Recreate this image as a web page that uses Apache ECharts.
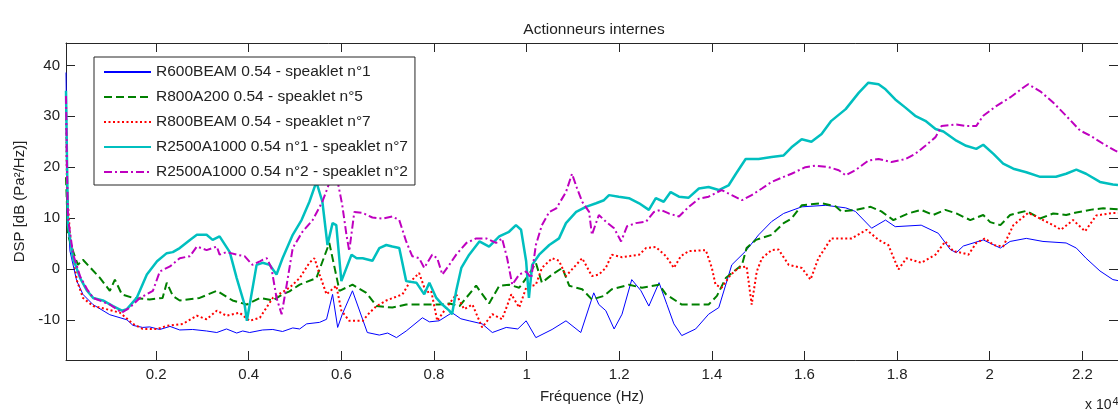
<!DOCTYPE html>
<html>
<head>
<meta charset="utf-8">
<title>Actionneurs internes</title>
<script src="https://cdn.jsdelivr.net/npm/echarts@6/dist/echarts.min.js"></script>
<style>
  html, body { margin: 0; padding: 0; background: #fff; }
  #chart { width: 1118px; height: 409px; }
</style>
</head>
<body>
<div id="chart"></div>
<script>
// legend labels
const seriesNames = [
  'R600BEAM 0.54 - speaklet n°1',
  'R800A200 0.54 - speaklet n°5',
  'R800BEAM 0.54 - speaklet n°7',
  'R2500A1000 0.54 n°1 - speaklet n°7',
  'R2500A1000 0.54 n°2 - speaklet n°2'
];

// axis ticks (Hz / dB)
const freqTicks = [2000, 4000, 6000, 8000, 10000, 12000, 14000, 16000, 18000, 20000, 22000];
const dspTicks = [-10, 0, 10, 20, 30, 40];

// R600BEAM - speaklet n°1
const r600Freq = [54, 75, 97, 140, 284, 420, 636, 1000, 1370, 1500, 1710, 1860, 2080, 2300, 2510, 2790, 3090, 3310, 3520, 3740, 3870, 4020, 4300, 4520, 4730, 4950, 5100, 5250, 5530, 5680, 5810, 5920, 6020, 6240, 6560, 6820, 7000, 7190, 7400, 7750, 7900, 8110, 8390, 8580, 8760, 9040, 9260, 9560, 9810, 9990, 10200, 10550, 10850, 11170, 11450, 11560, 11710, 11890, 12060, 12270, 12470, 12640, 12860, 13030, 13180, 13350, 13650, 13930, 14150, 14430, 14730, 15010, 15290, 15550, 15940, 16460, 16890, 17100, 17450, 17750, 17960, 18520, 18890, 19150, 19280, 19430, 19860, 20230, 20440, 20790, 21150, 21650, 21870, 22080, 22380, 22660, 22770];
const r600Dsp = [38.6, 22, 10, 3.5, -2.3, -5, -7, -9, -10, -11.1, -11.5, -11.4, -11.9, -11.3, -12, -11.9, -12.2, -12.5, -11.8, -12.6, -12.2, -12.5, -12, -11.9, -12.3, -11.6, -11.8, -10.8, -10.5, -9.9, -5, -11.5, -8.9, -4.3, -12.5, -13, -12.6, -13.5, -12.2, -9.6, -10.4, -10.2, -8.6, -9.8, -10.2, -10.8, -12.5, -11.5, -11.8, -10.2, -13.5, -11.9, -10.2, -12.5, -4.7, -7, -8.2, -11.8, -8.9, -2.1, -4.3, -7.3, -2.7, -7, -10.8, -13.1, -11.8, -8.9, -7.6, 0.8, 3.5, 6.7, 9.3, 10.9, 12.2, 12.5, 12, 11.3, 8, 9.6, 8.3, 8.6, 7, 3.8, 3.2, 4.5, 5.7, 4.1, 5.4, 6, 5.4, 5.1, 4.1, 2.1, -0.4, -2.1, -2.3];

// R800A200 - speaklet n°5
const r800aFreq = [54, 97, 205, 310, 420, 790, 1000, 1110, 1260, 1500, 1860, 2140, 2230, 2360, 2510, 2940, 3310, 3650, 3960, 4240, 4520, 4730, 4880, 5100, 5460, 5740, 5960, 6240, 6540, 6760, 7100, 7400, 7680, 8110, 8330, 8550, 8910, 9190, 9410, 9620, 9840, 10050, 10200, 10330, 10550, 10770, 10920, 11200, 11410, 11670, 11840, 12210, 12490, 12860, 13010, 13350, 13720, 13930, 14110, 14300, 14650, 14750, 14950, 15290, 15550, 15720, 15940, 16370, 16670, 16800, 17100, 17430, 17660, 17920, 18240, 18520, 18780, 19040, 19280, 19580, 19860, 20010, 20230, 20440, 20790, 21090, 21370, 21650, 21870, 22230, 22450, 22770];
const r800aDsp = [18, 6.7, 3.5, 0.8, 1.8, -1.8, -4.3, -2.1, -5, -5.7, -6, -5.7, -2.7, -5.3, -6.2, -5.7, -4.3, -6.2, -7, -5.7, -6.2, -5, -4.4, -3.1, -1.8, 5.1, -4.3, -3.1, -4.7, -7.3, -7.6, -7, -7, -7, -6.8, -7.3, -3.3, -6.8, -3.3, -3.1, -3.7, -1.1, 1.2, -2.7, -1.1, 0.2, -3.3, -4, -6, -5.3, -4, -3.1, -3.7, -3.1, -5, -7, -7, -7, -5.3, -1.8, 0.8, 4.1, 5.7, 6.7, 9, 9.9, 12.5, 12.9, 12.3, 11.3, 11.6, 12.2, 11.3, 9.6, 10.9, 11.6, 10.6, 11.6, 10.9, 9.6, 10.6, 9.2, 8.6, 10.6, 11.4, 9.9, 10.9, 10.6, 11.1, 11.7, 11.9, 11.7];

// R800BEAM - speaklet n°7
const r800bFreq = [54, 75, 140, 290, 420, 640, 790, 1220, 1500, 1710, 2020, 2230, 2580, 2880, 3090, 3310, 3520, 3800, 4020, 4240, 4520, 4880, 5100, 5310, 5420, 5530, 5680, 5890, 6000, 6170, 6460, 6610, 6760, 6970, 7320, 7470, 7680, 7830, 7940, 8070, 8270, 8480, 8650, 8830, 9040, 9260, 9470, 9670, 9840, 9990, 10200, 10330, 10550, 10700, 10850, 11070, 11200, 11410, 11560, 11710, 11840, 12060, 12210, 12430, 12580, 12790, 13010, 13180, 13330, 13500, 13870, 14000, 14080, 14210, 14410, 14580, 14750, 14860, 14970, 15080, 15290, 15440, 15660, 15940, 16130, 16300, 16580, 17020, 17340, 17600, 17810, 18030, 18200, 18520, 18830, 19040, 19210, 19430, 19540, 19710, 19900, 20080, 20290, 20510, 20830, 21000, 21370, 21540, 21800, 22060, 22300, 22660, 22770];
const r800bDsp = [33, 15.8, 6.7, -2.3, -5.7, -7.3, -7.6, -8.6, -10.8, -11.8, -11.8, -11.2, -10.8, -9.2, -9.9, -8.2, -9.2, -8.6, -10.2, -9.6, -5.7, -3.7, -1.8, 1.2, 2.1, -1.1, -5, -3.3, -8.2, -10.2, -10.2, -8.6, -7.3, -6.2, -5, -2.7, -0.8, -4.7, -4.3, -10.2, -7.6, -5, -7.9, -7, -11.5, -8.9, -9.9, -5, -7.6, -3.7, -3.1, 0.2, 2.1, 1.6, -1.4, 0.8, 2.1, -1.4, -1.1, 0.2, 2.8, 2.3, 2.5, 2.8, 4.1, 4.3, 2.5, 0.2, 2.5, 3.5, 3.7, 0.2, -3.1, -3.7, -1.1, 0.2, 0.5, -7, -0.5, 2.1, 3.7, 3.8, 0.8, 0.2, -2.1, 2.1, 6, 6, 7.7, 5.7, 4.7, -0.1, 2.1, 1.2, 2.8, 5.4, 3.5, 3.1, 2.8, 5.1, 6, 4.7, 4.4, 8.6, 11, 10.3, 8.6, 7.7, 9.6, 7.4, 10.5, 11, 11];

// R2500A1000 n°1 - speaklet n°7
const r2500aFreq = [54, 75, 97, 205, 360, 510, 640, 850, 1070, 1260, 1370, 1580, 1800, 2020, 2230, 2360, 2510, 2730, 2880, 3090, 3220, 3370, 3590, 3740, 3910, 3960, 4170, 4300, 4450, 4600, 4730, 4950, 5140, 5310, 5460, 5590, 5700, 5810, 5890, 6000, 6110, 6220, 6330, 6460, 6670, 6820, 6970, 7100, 7250, 7400, 7620, 7790, 7900, 8050, 8180, 8330, 8390, 8480, 8590, 8760, 8980, 9190, 9410, 9620, 9770, 9880, 9990, 10050, 10120, 10270, 10490, 10700, 10850, 11070, 11280, 11500, 11670, 11780, 11990, 12210, 12430, 12640, 12790, 12960, 13110, 13290, 13500, 13720, 13930, 14150, 14360, 14520, 14730, 15010, 15290, 15550, 15720, 15940, 16150, 16370, 16580, 16890, 17170, 17380, 17600, 17750, 17960, 18180, 18390, 18610, 18830, 19000, 19280, 19490, 19710, 19860, 20080, 20290, 20510, 20790, 21090, 21430, 21650, 21870, 22080, 22380, 22660, 22770];
const r2500aDsp = [35, 21.6, 8.6, 2.1, -1.8, -4.3, -5.7, -6.2, -7.3, -8.2, -7.9, -5.7, -1.1, 1.5, 3.1, 3.3, 4.1, 5.7, 6.7, 6.7, 5.7, 6.4, 3.3, -1.8, -7, -10.2, 0.8, 1.2, 0.8, -1.1, 2.1, 6.7, 9.6, 13.2, 17.1, 13.2, 4.7, 9, 8.6, -2.4, 0.2, 2.8, 2.1, 2.1, 1.6, 4.1, 4.7, 4.4, 4.1, -2.4, -2.7, -5, -2.7, -5.7, -7, -8.2, -8.9, -4.3, 0.2, 2.8, 5.4, 4.4, 6.4, 7.3, 8.6, 7.7, 1.5, -5.7, 0.8, 2.8, 4.7, 6, 9, 11.2, 12.2, 12.9, 13.5, 14.5, 14.2, 13.9, 12.9, 11.6, 13.9, 13.2, 15.1, 14.2, 14, 15.8, 16.1, 15.5, 16.4, 18.7, 21.6, 21.6, 22, 22.3, 23.9, 25.5, 25, 26.5, 29.1, 31.4, 34.6, 36.6, 36.3, 35.3, 33.3, 31.7, 30.1, 29.1, 27.5, 27, 25.2, 24.2, 23.6, 24.4, 22.6, 20.7, 19.7, 19, 18.1, 18.1, 18.7, 19.5, 18.7, 17.1, 16.6, 16.5];

// R2500A1000 n°2 - speaklet n°2
const r2500bFreq = [54, 75, 97, 205, 360, 510, 640, 1000, 1260, 1430, 1650, 1930, 2080, 2300, 2510, 2730, 2880, 3090, 3310, 3370, 3520, 3740, 3910, 4080, 4240, 4300, 4390, 4490, 4600, 4710, 4820, 4950, 5160, 5380, 5590, 5790, 5920, 6020, 6110, 6170, 6280, 6460, 6670, 6890, 7100, 7250, 7400, 7530, 7680, 7790, 7960, 8070, 8180, 8330, 8480, 8700, 8910, 9130, 9340, 9470, 9580, 9690, 9840, 9990, 10100, 10200, 10330, 10490, 10640, 10850, 10980, 11090, 11200, 11350, 11410, 11560, 11710, 11890, 12040, 12170, 12360, 12580, 12750, 12900, 13070, 13290, 13500, 13720, 13930, 14210, 14430, 14650, 14860, 15080, 15290, 15550, 15720, 16020, 16240, 16520, 16740, 16890, 17100, 17380, 17600, 17880, 18180, 18390, 18610, 18830, 18960, 19280, 19490, 19710, 19860, 20140, 20440, 20720, 20830, 21090, 21370, 21650, 21950, 22170, 22450, 22700, 22770];
const r2500bDsp = [34, 20, 10, 3, -1.5, -4, -5.7, -7, -8.6, -7.6, -5.7, -4.3, -0.5, 0.5, 2.1, 2.5, 4.4, 3.7, 4.4, 2.8, 3.3, 2.8, 2.5, 0.8, 1.5, 1.8, 2.1, 0.2, -5.7, -8.9, -3.1, 4.1, 7.3, 9.6, 13.2, 18.1, 17.2, 12.5, 6.7, 3.5, 11.2, 11, 10.1, 9.9, 10.3, 9.6, 5.4, 2.5, 2.1, 0.2, 2.8, 2.1, -1.1, 0.8, 2.8, 5.1, 6, 6, 5.1, 6, 2.1, -3.1, -1.1, -0.5, -1.8, 4.7, 8.6, 11.2, 11.9, 15.1, 18.7, 15.8, 13.2, 11.2, 6.7, 10.6, 9.3, 8, 5.4, 8.4, 9, 9.3, 11.2, 11.6, 10.9, 10.3, 12.2, 13.8, 14.2, 15.5, 14.5, 13.5, 14.5, 15.8, 17.1, 18.1, 18.7, 20, 20.3, 20, 19.4, 18.4, 19.4, 21.3, 21.6, 21, 21.6, 22.6, 24.2, 25.9, 28.1, 28.4, 28.1, 28.1, 30.1, 32, 33.7, 35.6, 36.3, 34.9, 32.7, 30.1, 27.2, 26.2, 24.6, 23.3, 23];

const freqMin = 54;
const freqMax = 22770;
const dspMin = -17.9;
const dspMax = 44.4;

const axisColor = '#262626';
const font = 'Arial, "Liberation Sans", sans-serif';

function pairs(xs, ys) {
  return xs.map((x, i) => [x, ys[i]]);
}

const chart = echarts.init(document.getElementById('chart'), null, { renderer: 'canvas' });

const tickStyle = { show: true, inside: true, length: 9, lineStyle: { color: axisColor, width: 1 } };

const option = {
  animation: false,
  backgroundColor: '#fff',
  textStyle: { fontFamily: font },
  title: {
    text: 'Actionneurs internes',
    left: 589,
    textAlign: 'center',
    top: 17,
    textStyle: { fontFamily: font, fontSize: 15.5, fontWeight: 'normal', color: '#222' }
  },
  legend: {
    orient: 'vertical',
    left: 94,
    top: 57,
    padding: [7, 7, 5, 9],
    itemWidth: 47,
    itemHeight: 14,
    itemGap: 9,
    backgroundColor: '#fff',
    borderColor: axisColor,
    borderWidth: 1,
    borderRadius: 0,
    selectedMode: false,
    itemStyle: { opacity: 0 },
    textStyle: { fontFamily: font, fontSize: 15.5, color: '#222' },
    data: seriesNames
  },
  grid: { left: 66, right: -2, top: 43, bottom: 46, containLabel: false },
  xAxis: [{
    type: 'value',
    min: freqMin,
    max: freqMax,
    position: 'bottom',
    name: 'Fréquence (Hz)',
    nameLocation: 'middle',
    nameGap: 29,
    nameTextStyle: { fontFamily: font, fontSize: 15, color: '#222' },
    axisLine: { show: true, onZero: false, lineStyle: { color: axisColor, width: 1 } },
    axisTick: Object.assign({ customValues: freqTicks }, tickStyle),
    axisLabel: {
      customValues: freqTicks,
      margin: 7,
      fontFamily: font,
      fontSize: 15,
      color: '#222',
      formatter: v => String(Math.round(v / 1000) / 10)
    },
    splitLine: { show: false }
  }, {
    type: 'value',
    min: freqMin,
    max: freqMax,
    position: 'top',
    axisLine: { show: true, onZero: false, lineStyle: { color: axisColor, width: 1 } },
    axisTick: Object.assign({ customValues: freqTicks }, tickStyle),
    axisLabel: { show: false },
    splitLine: { show: false }
  }],
  yAxis: [{
    type: 'value',
    min: dspMin,
    max: dspMax,
    position: 'left',
    name: 'DSP [dB (Pa²/Hz)]',
    nameLocation: 'middle',
    nameRotate: 90,
    nameGap: 38,
    nameTextStyle: { fontFamily: font, fontSize: 15, color: '#222' },
    axisLine: { show: true, onZero: false, lineStyle: { color: axisColor, width: 1 } },
    axisTick: Object.assign({ customValues: dspTicks }, tickStyle),
    axisLabel: { customValues: dspTicks, margin: 6, fontFamily: font, fontSize: 15, color: '#222' },
    splitLine: { show: false }
  }, {
    type: 'value',
    min: dspMin,
    max: dspMax,
    position: 'right',
    axisLine: { show: true, onZero: false, lineStyle: { color: axisColor, width: 1 } },
    axisTick: Object.assign({ customValues: dspTicks }, tickStyle),
    axisLabel: { show: false },
    splitLine: { show: false }
  }],
  graphic: [{
    type: 'text',
    left: 1085,
    top: 396,
    style: {
      text: '{a|x 10}{b|4}',
      rich: {
        a: { fontFamily: font, fontSize: 14, fill: '#222', padding: [8, 0, 0, 0] },
        b: { fontFamily: font, fontSize: 11, fill: '#222', padding: [0, 0, 0, 1] }
      }
    }
  }],
  series: [
    {
      name: seriesNames[0], type: 'line', symbol: 'none', data: pairs(r600Freq, r600Dsp),
      lineStyle: { color: '#0000ff', width: 1, type: 'solid' }, itemStyle: { color: '#0000ff' }
    },
    {
      name: seriesNames[1], type: 'line', symbol: 'none', data: pairs(r800aFreq, r800aDsp),
      lineStyle: { color: '#008000', width: 2, type: [8, 4] }, itemStyle: { color: '#008000' }
    },
    {
      name: seriesNames[2], type: 'line', symbol: 'none', data: pairs(r800bFreq, r800bDsp),
      lineStyle: { color: '#ff0000', width: 2, type: [2, 2.5] }, itemStyle: { color: '#ff0000' }
    },
    {
      name: seriesNames[3], type: 'line', symbol: 'none', data: pairs(r2500aFreq, r2500aDsp),
      lineStyle: { color: '#00bfbf', width: 2.5, type: 'solid' }, itemStyle: { color: '#00bfbf' }
    },
    {
      name: seriesNames[4], type: 'line', symbol: 'none', data: pairs(r2500bFreq, r2500bDsp),
      lineStyle: { color: '#bf00bf', width: 2, type: [8, 3, 2, 3] }, itemStyle: { color: '#bf00bf' }
    }
  ]
};

chart.setOption(option);
</script>
</body>
</html>
